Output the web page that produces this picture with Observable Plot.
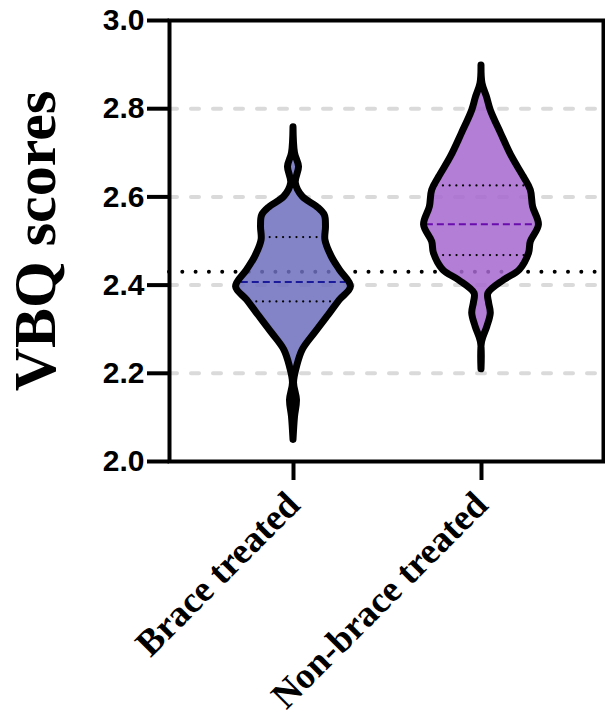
<!DOCTYPE html>
<html><head><meta charset="utf-8">
<script src="https://cdn.jsdelivr.net/npm/d3@7"></script>
<script src="https://cdn.jsdelivr.net/npm/@observablehq/plot@0.6"></script>
<style>body{margin:0;background:#fff}</style>
</head><body><div id="chart"></div>
<script>
// ---- data ----
const groups = ["Brace treated", "Non-brace treated"];
const groupPos = [1, 2];
// violin profiles: VBQ value and relative density (0..1)
const braceY =       [2.049, 2.101, 2.139, 2.178, 2.214, 2.253, 2.291, 2.336, 2.366, 2.396, 2.434, 2.464, 2.502, 2.532, 2.558, 2.577, 2.600, 2.631, 2.668, 2.699, 2.758];
const braceDensity = [0.0,   0.026, 0.06,  0.009, 0.06,  0.16,  0.37,  0.63,  0.80,  0.99,  0.80,  0.66,  0.55,  0.56,  0.54,  0.41,  0.16,  0.04,  0.095, 0.026, 0.0];
const nonBraceY =       [2.209, 2.271, 2.305, 2.336, 2.360, 2.381, 2.411, 2.434, 2.472, 2.498, 2.536, 2.577, 2.615, 2.645, 2.690, 2.743, 2.796, 2.826, 2.857, 2.898];
const nonBraceDensity = [0.0,   0.01,  0.10,  0.16,  0.13,  0.12,  0.39,  0.66,  0.82,  0.85,  0.99,  0.89,  0.85,  0.73,  0.53,  0.34,  0.16,  0.095, 0.017, 0.0];
const medians = [2.407, 2.538];
const lowerQuartiles = [2.363, 2.468];
const upperQuartiles = [2.509, 2.626];
const referenceValue = 2.43;
const gridValues = [2.2, 2.4, 2.6, 2.8];
const yTicks = [2.0, 2.2, 2.4, 2.6, 2.8, 3.0];
const yLabel = "VBQ scores";

// ---- styling ----
const fills = ["#6d6ebd", "#a467cf"];
const medianColors = ["#1a1a9a", "#6a0dad"];
const maxHalf = 0.3085; // x units for density 1
const insetUnits = 2 / 188;

const profiles = [
  braceY.map((v, i) => ({v, d: braceDensity[i], g: 0})),
  nonBraceY.map((v, i) => ({v, d: nonBraceDensity[i], g: 1}))
];
function halfAt(g, v) {
  const p = profiles[g];
  for (let i = 1; i < p.length; i++) {
    if (v <= p[i].v) {
      const t = (v - p[i-1].v) / (p[i].v - p[i-1].v);
      return (p[i-1].d + t * (p[i].d - p[i-1].d)) * maxHalf - insetUnits;
    }
  }
  return 0;
}
const quartileRows = [];
const medianRows = [];
groups.forEach((name, g) => {
  [lowerQuartiles[g], upperQuartiles[g]].forEach(q => quartileRows.push({g, v: q, h: halfAt(g, q)}));
  medianRows.push({g, v: medians[g], h: halfAt(g, medians[g])});
});

const marks = [
  Plot.ruleY(gridValues, {stroke: "#dadada", strokeWidth: 4, strokeDasharray: "8,14", strokeLinecap: "round"}),
  Plot.ruleY([referenceValue], {stroke: "black", strokeWidth: 4, strokeDasharray: "0,13.3", strokeLinecap: "round"}),
];
profiles.forEach((p, g) => {
  marks.push(Plot.areaX(p, {y: "v", x1: d => groupPos[g] - d.d * maxHalf, x2: d => groupPos[g] + d.d * maxHalf,
    fill: fills[g], fillOpacity: 0.85, curve: "catmull-rom"}));
});
marks.push(
  Plot.ruleY(quartileRows, {y: "v", x1: d => groupPos[d.g] - d.h, x2: d => groupPos[d.g] + d.h,
    stroke: "black", strokeWidth: 2.2, strokeDasharray: "0,6.7", strokeLinecap: "round"}),
  Plot.ruleY(medianRows, {y: "v", x1: d => groupPos[d.g] - d.h, x2: d => groupPos[d.g] + d.h,
    stroke: d => medianColors[d.g], strokeWidth: 2.2, strokeDasharray: "7,4"})
);
profiles.forEach((p, g) => {
  marks.push(Plot.areaX(p, {y: "v", x1: d => groupPos[g] - d.d * maxHalf, x2: d => groupPos[g] + d.d * maxHalf,
    fill: "none", stroke: "black", strokeWidth: 7, strokeLinejoin: "round", strokeLinecap: "round", curve: "catmull-rom"}));
});
marks.push(
  Plot.frame({stroke: "black", strokeWidth: 4}),
  Plot.axisY(yTicks, {tickSize: 22, tickPadding: 3, strokeWidth: 4, fontSize: 30, fontWeight: "bold",
    fontFamily: "Liberation Sans, Arial, sans-serif", fill: "black", tickFormat: d => d.toFixed(1), label: null}),
  Plot.axisX(groupPos, {tickSize: 19, tickPadding: 18, strokeWidth: 4, tickRotate: -45, tickFormat: d => groups[d - 1],
    fontSize: 37, fontWeight: "bold", fontFamily: "Liberation Serif, Times New Roman, serif", fill: "black", label: null}),
  Plot.text([yLabel], {frameAnchor: "left", dx: -134, rotate: -90, fontSize: 60, fontWeight: "bold", textAnchor: "middle",
    fontFamily: "Liberation Serif, Times New Roman, serif", fill: "black", lineAnchor: "middle"})
);

const chart = Plot.plot({
  width: 605, height: 712,
  marginTop: 20, marginBottom: 251, marginLeft: 169, marginRight: 2,
  x: {domain: [0.3404, 2.649]},
  y: {domain: [2, 3]},
  style: {background: "white", overflow: "visible"},
  marks
});
document.getElementById("chart").appendChild(chart);
</script>
</body></html>
